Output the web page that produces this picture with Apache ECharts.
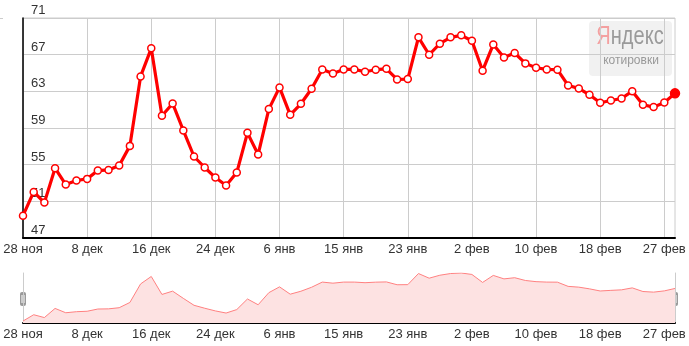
<!DOCTYPE html>
<html>
<head>
<meta charset="utf-8">
<script src="https://cdn.jsdelivr.net/npm/echarts@6/dist/echarts.min.js"></script>
<style>
html,body{margin:0;padding:0;background:#fff;}
#c{width:689px;height:346px;}
</style>
</head>
<body>
<div id="c"></div>
<script>
var dates = ['28 ноя','1 дек','2 дек','3 дек','4 дек','5 дек','8 дек','9 дек','10 дек','11 дек','12 дек','15 дек','16 дек','17 дек','18 дек','19 дек','22 дек','23 дек','24 дек','25 дек','26 дек','29 дек','30 дек','5 янв','6 янв','8 янв','9 янв','12 янв','13 янв','14 янв','15 янв','16 янв','19 янв','20 янв','21 янв','22 янв','23 янв','26 янв','27 янв','28 янв','29 янв','30 янв','2 фев','3 фев','4 фев','5 фев','6 фев','9 фев','10 фев','11 фев','12 фев','13 фев','16 фев','17 фев','18 фев','19 фев','20 фев','24 фев','25 фев','26 фев','27 фев','2 мар'];
var values = [49.44,52.03,50.86,54.61,52.83,53.27,53.45,54.36,54.43,54.90,
57.05,64.63,67.69,60.33,61.68,58.73,55.89,54.69,53.59,52.72,
54.14,58.47,56.11,61.06,63.43,60.44,61.64,63.28,65.39,64.95,
65.39,65.39,65.14,65.36,65.46,64.30,64.34,68.89,66.99,68.20,
68.89,69.11,68.52,65.25,68.12,66.70,67.18,66.05,65.57,65.39,
65.36,63.64,63.32,62.62,61.75,62.00,62.22,63.02,61.53,61.28,
61.79,62.78];
var yTicks = [47,51,55,59,63,67,71];

var font = 'Arial, "Liberation Sans", sans-serif';
var mainData = values.map(function(v,i){
  if (i === values.length-1) return {value:v, symbolSize:9, itemStyle:{color:'#ff0000',borderColor:'#ff0000'}};
  return v;
});

function handle(x){
  return {type:'group', silent:true, children:[
    {type:'rect', shape:{x:x, y:292, width:6, height:14, r:2}, style:{fill:'#9a9a9a'}},
    {type:'line', shape:{x1:x+2, y1:295, x2:x+2, y2:303}, style:{stroke:'#fff', lineWidth:1}},
    {type:'line', shape:{x1:x+4, y1:295, x2:x+4, y2:303}, style:{stroke:'#fff', lineWidth:1}}
  ]};
}

var chart = echarts.init(document.getElementById('c'));
chart.setOption({
  animation:false,
  grid:[
    {left:23, right:14, top:18, height:220, show:true, borderColor:'#cccccc', borderWidth:1},
    {left:23, right:14, top:273, height:50}
  ],
  xAxis:[
    {type:'category', gridIndex:0, data:dates, boundaryGap:false,
     axisLine:{lineStyle:{color:'#000', width:2}},
     axisTick:{show:false},
     axisLabel:{interval:5, color:'#333', fontSize:13, fontFamily:font, margin:5},
     splitLine:{show:true, interval:5, lineStyle:{color:'#cccccc', width:1}}},
    {type:'category', gridIndex:1, data:dates, boundaryGap:false,
     axisLine:{lineStyle:{color:'#000', width:2}},
     axisTick:{show:false},
     axisLabel:{interval:5, color:'#333', fontSize:13, fontFamily:font, margin:5},
     splitLine:{show:false}}
  ],
  yAxis:[
    {type:'value', gridIndex:0, min:yTicks[0], max:yTicks[yTicks.length-1], interval:4,
     axisLine:{show:true, lineStyle:{color:'#000', width:1.5}},
     axisTick:{show:false},
     axisLabel:{inside:true, color:'#333', fontSize:13, fontFamily:font, margin:8,
                verticalAlign:'bottom', align:'left', padding:[0,0,1,0]},
     splitLine:{lineStyle:{color:'#cccccc', width:1}}},
    {type:'value', gridIndex:1,
     min:function(v){return v.min-0.8;}, max:function(v){return v.max;},
     axisLine:{show:true, lineStyle:{color:'#cccccc', width:1}},
     axisTick:{show:false}, axisLabel:{show:false}, splitLine:{show:false}},
    {type:'value', gridIndex:1, position:'right',
     min:function(v){return v.min-0.8;}, max:function(v){return v.max;},
     axisLine:{show:true, lineStyle:{color:'#cccccc', width:1}},
     axisTick:{show:false}, axisLabel:{show:false}, splitLine:{show:false}}
  ],
  series:[
    {type:'line', xAxisIndex:0, yAxisIndex:0, data:mainData,
     symbol:'circle', symbolSize:7, showAllSymbol:true,
     lineStyle:{color:'#ff0000', width:3.2},
     itemStyle:{color:'#ffffff', borderColor:'#ff0000', borderWidth:1.5},
     z:5},
    {type:'line', xAxisIndex:1, yAxisIndex:1, data:values,
     symbol:'none', lineStyle:{color:'#ff8080', width:1},
     areaStyle:{color:'#fde2e2', opacity:1, origin:'start'}}
  ],
  graphic:[
    {type:'group', silent:true, children:[
      {type:'rect', shape:{x:589, y:21, width:83, height:55, r:4}, style:{fill:'rgba(236,236,236,0.75)'}},
      {type:'text', x:630, y:25, scaleX:0.8, style:{
        text:'{a|Я}{b|ндекс}', align:'center', verticalAlign:'top',
        rich:{
          a:{fontSize:25, fontFamily:font, fill:'#f4a0a0'},
          b:{fontSize:25, fontFamily:font, fill:'#9a9a9a'}
        }}},
      {type:'text', x:631, y:55, style:{text:'котировки', align:'center', verticalAlign:'top',
        fontSize:12, fontFamily:font, fill:'#999'}}
    ]},
    {type:'line', silent:true, shape:{x1:0, y1:18.5, x2:3, y2:18.5}, style:{stroke:'#cccccc', lineWidth:1}},
    handle(20), handle(672)
  ]
});
</script>
</body>
</html>
